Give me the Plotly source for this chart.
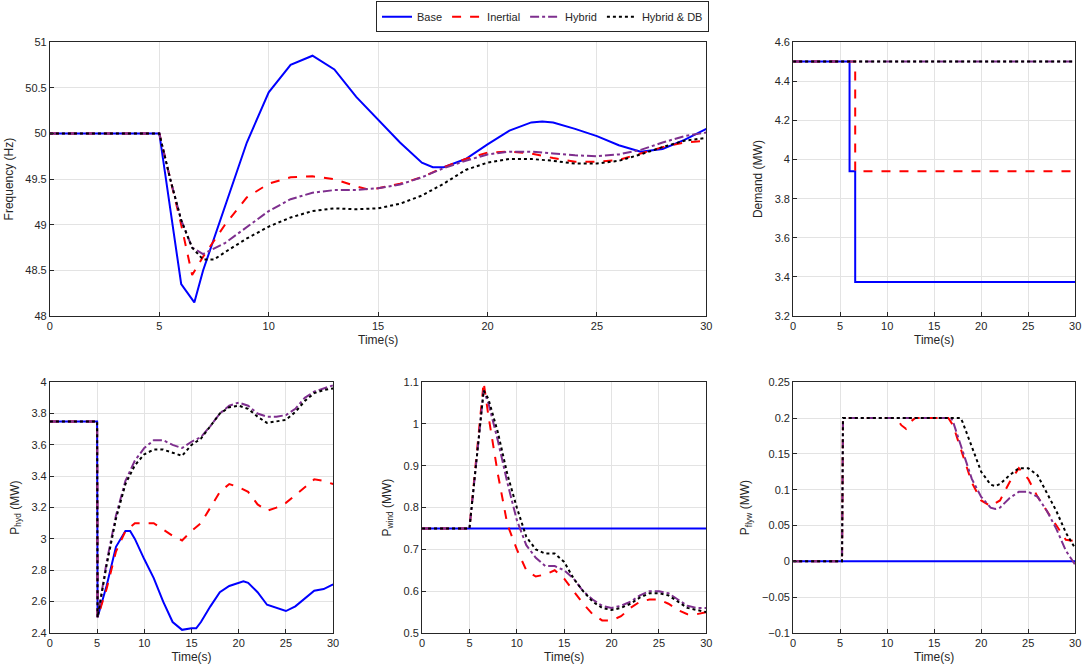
import plotly.graph_objects as go

# ---- Frequency ----
f_base_t = [0,5,6,6.6,7,8,9,10,11,12,13,14,15,16,17,17.5,18,19,20,21,22,22.5,23,24,25,26,27,28,29,30]
f_base_v = [50,50,48.35,48.15,48.5,49.2,49.9,50.45,50.75,50.85,50.7,50.4,50.15,49.9,49.68,49.63,49.63,49.72,49.88,50.03,50.12,50.13,50.12,50.05,49.97,49.87,49.8,49.83,49.93,50.05]
f_in_t = [0,5,5.5,6,6.5,7,8,9,10,11,12,13,14,14.5,15,16,17,18,19,20,21,22,23,24,25,26,27,28,29,30]
f_in_v = [50,50,49.5,49.0,48.45,48.65,49.0,49.3,49.45,49.52,49.53,49.5,49.42,49.39,49.4,49.45,49.52,49.63,49.72,49.79,49.8,49.78,49.73,49.69,49.69,49.71,49.78,49.85,49.9,49.92]
f_hy_t = [0,5,5.5,6,6.5,7,8,9,10,11,12,13,14,15,16,17,18,19,20,21,22,23,24,25,26,27,28,29,30]
f_hy_v = [50,50,49.5,49.05,48.75,48.68,48.8,48.98,49.15,49.28,49.35,49.38,49.38,49.4,49.44,49.52,49.62,49.7,49.77,49.8,49.8,49.78,49.76,49.75,49.77,49.82,49.9,49.97,50.01]
f_db_t = [0,5,5.5,6,6.5,7,7.5,8,9,10,11,12,13,14,15,16,17,18,19,20,21,22,23,24,25,26,27,28,29,30]
f_db_v = [50,50,49.5,49.05,48.75,48.62,48.62,48.7,48.85,48.98,49.08,49.15,49.18,49.17,49.18,49.23,49.32,49.45,49.6,49.68,49.72,49.72,49.7,49.67,49.67,49.7,49.77,49.85,49.92,49.95]

# ---- Demand ----
d_base_t = [0,6,6,6.6,6.6,30]
d_base_v = [4.5,4.5,3.94,3.94,3.375,3.375]
d_in_t = [0,6.6,6.6,30]
d_in_v = [4.5,4.5,3.94,3.94]
d_hy_t = [0,30]
d_hy_v = [4.5,4.5]

# ---- P_hyd ----
h_base_t = [0,5,5.05,6,7,8,8.5,9,10,11,12,13,14,15,15.5,16,17,18,19,20,20.5,21,22,23,24,25,26,27,28,29,30]
h_base_v = [3.75,3.75,2.5,2.7,2.95,3.05,3.05,3.0,2.87,2.75,2.6,2.47,2.42,2.43,2.43,2.47,2.57,2.66,2.7,2.72,2.73,2.72,2.66,2.58,2.56,2.54,2.57,2.62,2.67,2.68,2.71]
h_t = [0,5,5.05,6,7,8,9,10,11,12,13,14,15,16,17,18,19,20,21,22,23,24,25,26,27,28,29,30]
h_in_v = [3.75,3.75,2.5,2.68,2.92,3.05,3.1,3.1,3.1,3.06,3.02,2.99,3.05,3.1,3.2,3.3,3.35,3.33,3.3,3.22,3.18,3.2,3.23,3.28,3.33,3.38,3.37,3.35]
h_hy_v = [3.75,3.75,2.5,2.85,3.15,3.37,3.5,3.58,3.63,3.63,3.6,3.58,3.62,3.65,3.72,3.8,3.85,3.87,3.85,3.8,3.78,3.78,3.79,3.83,3.9,3.94,3.96,3.98]
h_db_v = [3.75,3.75,2.5,2.83,3.13,3.35,3.47,3.54,3.57,3.57,3.55,3.53,3.6,3.64,3.72,3.8,3.84,3.85,3.83,3.78,3.74,3.75,3.76,3.81,3.88,3.93,3.95,3.96]

# ---- P_wind ----
w_base_t = [0,30]
w_base_v = [0.75,0.75]
w_t = [0,5,6.5,7,8,9,10,11,12,13,14,15,16,17,18,19,20,21,22,23,24,25,26,27,28,29,30]
w_in_v = [0.75,0.75,1.1,1.02,0.88,0.76,0.7,0.65,0.635,0.64,0.65,0.63,0.6,0.57,0.545,0.53,0.53,0.54,0.56,0.575,0.58,0.58,0.57,0.555,0.545,0.545,0.55]
w_hy_v = [0.75,0.75,1.08,1.05,0.96,0.86,0.77,0.71,0.68,0.66,0.66,0.65,0.63,0.6,0.58,0.565,0.56,0.565,0.575,0.59,0.6,0.6,0.595,0.58,0.565,0.56,0.56]
w_db_v = [0.75,0.75,1.08,1.06,0.98,0.88,0.8,0.73,0.7,0.69,0.69,0.67,0.63,0.6,0.575,0.56,0.555,0.56,0.57,0.585,0.595,0.595,0.59,0.575,0.56,0.555,0.55]

# ---- P_flyw ----
y_base_t = [0,30]
y_base_v = [0,0]
y_in_t = [0,5.2,5.3,11,11.5,12,12.5,13,16.5,17,18,19,20,21,22,23,24,25,26,27,28,29,30]
y_in_v = [0,0,0.2,0.2,0.19,0.185,0.195,0.2,0.2,0.19,0.15,0.11,0.085,0.077,0.085,0.11,0.13,0.115,0.09,0.07,0.05,0.03,0.028]
y_hy_t = [0,5.2,5.3,16.8,17,18,19,20,21,21.5,22,23,24,25,26,27,28,29,30]
y_hy_v = [0,0,0.2,0.2,0.195,0.155,0.115,0.09,0.075,0.073,0.075,0.088,0.097,0.097,0.09,0.07,0.045,0.015,-0.005]
y_db_t = [0,5.2,5.3,17.8,18,19,20,21,21.5,22,23,24,25,26,27,28,29,30]
y_db_v = [0,0,0.2,0.2,0.195,0.16,0.125,0.107,0.105,0.108,0.12,0.13,0.13,0.12,0.095,0.07,0.04,0.018]

names = ["Base", "Inertial", "Hybrid", "Hybrid & DB"]
styles = [dict(color="#0000FF", width=2, dash="solid"),
          dict(color="#FF0000", width=2, dash="dash"),
          dict(color="#7E2F8E", width=2, dash="dashdot"),
          dict(color="#000000", width=2, dash="dot")]

fig = go.Figure()
doms = {
    1: ([0.046, 0.651], [0.526, 0.937]),
    2: ([0.731, 0.991], [0.526, 0.937]),
    3: ([0.046, 0.307], [0.051, 0.427]),
    4: ([0.389, 0.651], [0.051, 0.427]),
    5: ([0.731, 0.991], [0.051, 0.427]),
}
panels = {
    1: [(f_base_t, f_base_v), (f_in_t, f_in_v), (f_hy_t, f_hy_v), (f_db_t, f_db_v)],
    2: [(d_base_t, d_base_v), (d_in_t, d_in_v), (d_hy_t, d_hy_v), (d_hy_t, d_hy_v)],
    3: [(h_base_t, h_base_v), (h_t, h_in_v), (h_t, h_hy_v), (h_t, h_db_v)],
    4: [(w_base_t, w_base_v), (w_t, w_in_v), (w_t, w_hy_v), (w_t, w_db_v)],
    5: [(y_base_t, y_base_v), (y_in_t, y_in_v), (y_hy_t, y_hy_v), (y_db_t, y_db_v)],
}
yinfo = {
    1: ("Frequency (Hz)", [48, 51], 0.5),
    2: ("Demand (MW)", [3.2, 4.6], 0.2),
    3: ("P<sub>hyd</sub> (MW)", [2.4, 4], 0.2),
    4: ("P<sub>wind</sub> (MW)", [0.5, 1.1], 0.1),
    5: ("P<sub>flyw</sub> (MW)", [-0.1, 0.25], 0.05),
}
for k in range(1, 6):
    sfx = "" if k == 1 else str(k)
    for i, (t, v) in enumerate(panels[k]):
        fig.add_trace(go.Scatter(x=t, y=v, mode="lines", name=names[i], line=styles[i],
                                 line_shape="linear",
                                 showlegend=(k == 1), xaxis="x" + sfx, yaxis="y" + sfx))
    ax = dict(showline=True, mirror=True, linecolor="#262626", linewidth=1, automargin=False,
              gridcolor="#E3E3E3", zeroline=False, ticks="inside", ticklen=4,
              tickcolor="#262626", tickfont=dict(size=11, color="#262626"))
    xd, yd = doms[k]
    fig.layout["xaxis" + sfx] = dict(ax, domain=xd, range=[0, 30], dtick=5,
                                     anchor="y" + sfx,
                                     title=dict(text="Time(s)", font=dict(size=12, color="#262626"), standoff=4))
    ttl, rng, dt = yinfo[k]
    fig.layout["yaxis" + sfx] = dict(ax, domain=yd, range=rng, dtick=dt,
                                     anchor="x" + sfx,
                                     title=dict(text=ttl, font=dict(size=12, color="#262626"), standoff=9))

fig.update_layout(width=1085, height=667, paper_bgcolor="white", plot_bgcolor="white",
                  margin=dict(l=0, r=0, t=0, b=0, autoexpand=False),
                  font=dict(family="Liberation Sans, Arial", size=11, color="#262626"),
                  legend=dict(orientation="h", x=0.5, xanchor="center", y=0.998, yanchor="top",
                              bordercolor="#262626", borderwidth=1, font=dict(size=11),
                              itemwidth=30, tracegroupgap=0))
fig.write_html("out.html", config={"displayModeBar": False},
               post_script="document.body.style.margin='0';document.body.style.overflow='hidden';")
